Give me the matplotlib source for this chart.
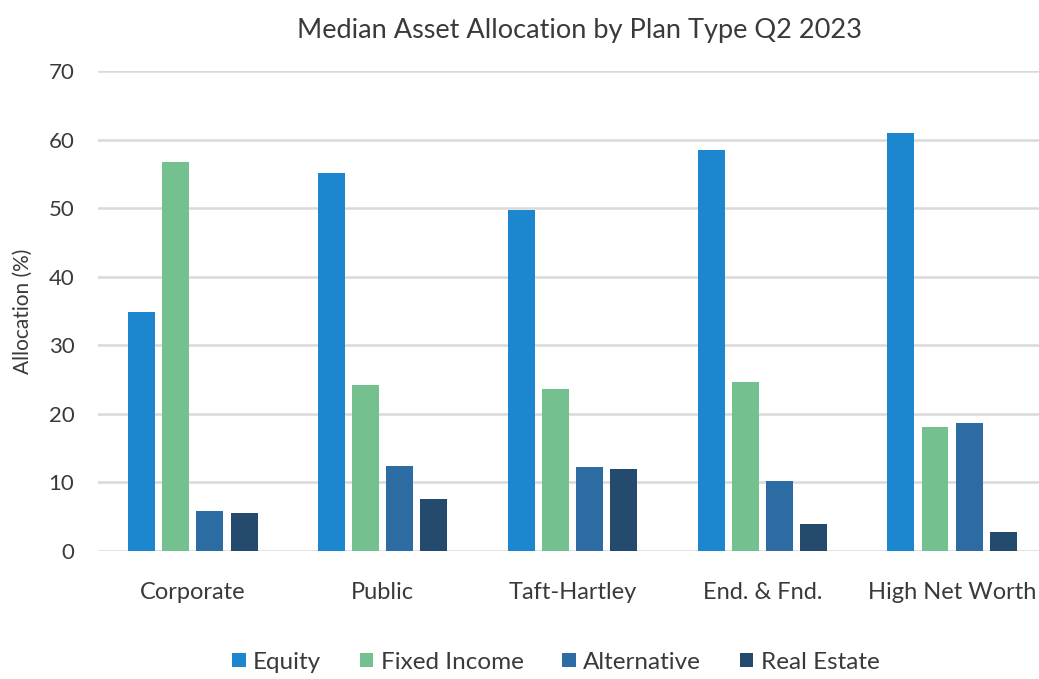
import numpy as np
import matplotlib
matplotlib.use("Agg")
import matplotlib.pyplot as plt

plans = ["Corporate", "Public", "Taft-Hartley", "End. & Fnd.", "High Net Worth"]
equity = [34.9, 55.2, 49.7, 58.5, 60.9]
fixed_income = [56.8, 24.2, 23.6, 24.7, 18.1]
alternative = [5.8, 12.4, 12.2, 10.2, 18.7]
real_estate = [5.6, 7.6, 12.0, 3.9, 2.8]

series = [("Equity", equity, "#1c87cf"),
          ("Fixed Income", fixed_income, "#74c08f"),
          ("Alternative", alternative, "#2d6ba3"),
          ("Real Estate", real_estate, "#244a6d")]

plt.rcParams['font.family'] = ['Lato', 'DejaVu Sans']
text_col = "#3a3a3a"

fig = plt.figure(figsize=(10.39, 6.79), dpi=100)
ax = fig.add_axes([0.0943, 0.1885, 0.9134, 0.7069])

x = np.arange(len(plans))
pitch = 0.18
width = 0.142
for i, (name, vals, col) in enumerate(series):
    ax.bar(x + (i - 1.5) * pitch, vals, width, color=col, label=name, zorder=3)

ax.set_xlim(-0.5, len(plans) - 0.5)
ax.set_ylim(0, 70)
ax.set_yticks(range(0, 71, 10))
ax.yaxis.grid(True, color="#d9d9d9", lw=1.8, zorder=0)
for s in ax.spines.values():
    s.set_visible(False)
ax.tick_params(axis="both", length=0, colors=text_col)
ax.tick_params(axis="y", pad=17, labelsize=16)
ax.tick_params(axis="x", pad=22, labelsize=17)
ax.set_xticks(x)
ax.set_xticklabels(plans)
ax.set_ylabel("Allocation (%)", fontsize=15, color=text_col, labelpad=11)

fig.text(0.558, 0.955, "Median Asset Allocation by Plan Type Q2 2023",
         ha="center", va="center", fontsize=19.5, color=text_col)

fig.legend(loc="center", bbox_to_anchor=(0.535, 0.025), ncol=4, frameon=False,
           fontsize=17.5, handlelength=0.55, handleheight=0.55, handletextpad=0.3,
           columnspacing=1.6, labelcolor=text_col)

fig.savefig("out.png", dpi=100)
